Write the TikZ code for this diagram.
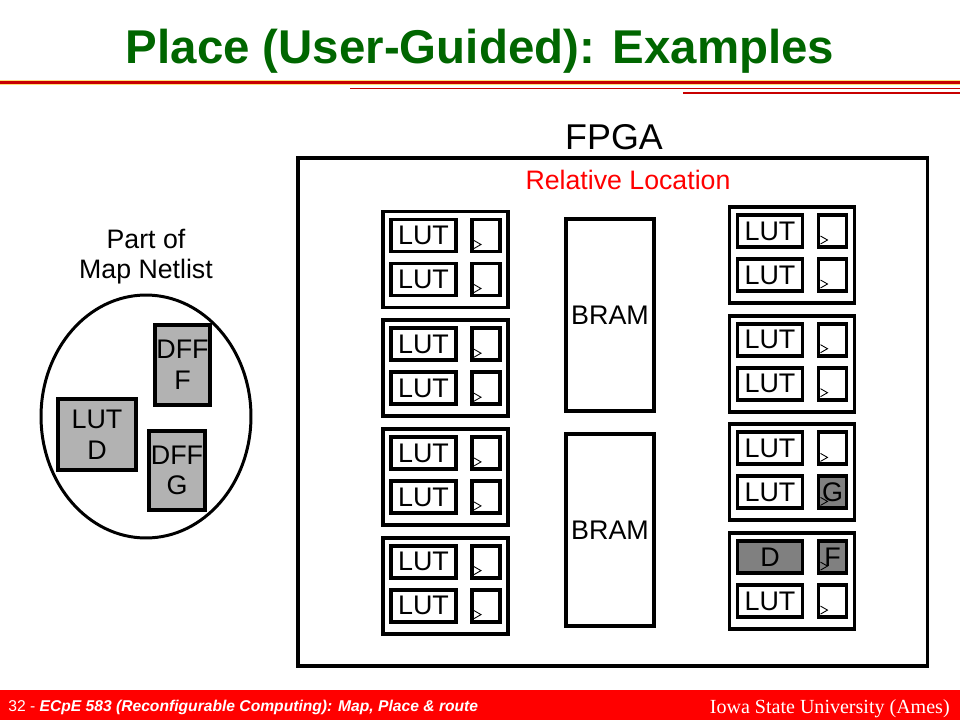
\documentclass[tikz,border=0pt]{standalone}
\usepackage{fontspec}
\setmainfont{Liberation Sans}
\newfontfamily\univfont{Liberation Serif}
\usetikzlibrary{positioning,calc,shapes.geometric}

\definecolor{titlegreen}{RGB}{0,102,0}
\definecolor{footred}{RGB}{255,0,0}
\definecolor{rulered}{RGB}{200,0,0}
\definecolor{ruleglow}{RGB}{255,225,120}
\definecolor{cellgray}{RGB}{178,178,178}
\definecolor{placed}{RGB}{128,128,128}

\begin{document}
\begin{tikzpicture}[
    x=0.02cm, y=-0.02cm,
    box/.style={draw, line width=2.2pt, inner sep=0pt, outer sep=0pt, font=\fontsize{15.3}{17.5}\selectfont},
    clb/.style={box, minimum width=2.5cm, minimum height=1.92cm},
    lut/.style={box, fill=white, minimum width=1.3cm, minimum height=0.64cm},
    ff/.style={box, fill=white, minimum width=0.56cm, minimum height=0.64cm},
    bram/.style={box, minimum width=1.76cm, minimum height=3.84cm},
    cell/.style={box, fill=cellgray, align=center},
    clk/.style={line width=0.5pt},
    label/.style={font=\fontsize{15.2}{17}\selectfont, align=center},
    foot/.style={text=white, inner sep=0pt}
]
\useasboundingbox (0,0) rectangle (960,720);

% title and rules
\node[anchor=base, text=titlegreen, font=\fontsize{27}{32}\selectfont\bfseries] (title) at (480,63) {Place (User-Guided): Examples};
\draw[ruleglow, line width=3pt] (0,82.5) -- (960,82.5);
\draw[rulered, line width=1.2pt] (0,82.5) -- (960,82.5);
\draw[rulered, line width=0.6pt] (350,88.5) -- (960,88.5);
\draw[rulered, line width=0.6pt] (683,93) -- (960,93);

% footer
\fill[footred] (0,690) rectangle (960,720);
\node[foot, anchor=base west, font=\fontsize{8.9}{10}\selectfont] (pgnum) at (8,711)
    {32 - \textbf{\itshape ECpE 583 (Reconfigurable Computing): Map, Place \& route}};
\node[foot, anchor=base east, font=\univfont\fontsize{11.4}{13}\selectfont] (univ) at (950,713) {Iowa State University (Ames)};

% map netlist
\node[label] (nllabel) at (146,257) {Part of\\Map Netlist};
\node[draw, ellipse, line width=1.7pt, minimum width=4.2cm, minimum height=4.86cm] (netlist) at (146,416.5) {};
\node[cell, minimum width=1.56cm, minimum height=1.42cm] (lutd) at (97,434.5) {LUT\\D};
\node[cell, minimum width=1.1cm, minimum height=1.6cm] (dfff) at (182.5,365) {DFF\\F};
\node[cell, minimum width=1.12cm, minimum height=1.58cm] (dffg) at (177,470.5) {DFF\\G};

% fpga
\node[label, font=\fontsize{20.4}{24}\selectfont] (fpgalabel) at (614,137) {FPGA};
\node[draw, line width=2.2pt, minimum width=12.59cm, minimum height=10.16cm] (fpga) at (612.75,412) {};
\node[label, text=footred] (relloc) at (628,180) {Relative Location};

\node[bram] (bram1) at (610,315) {BRAM};
\node[bram] (bram2) at (610,530) {BRAM};

% CLBs: name/x/y/fill a/text a/fill ff a/text ff a/fill b/text b/fill ff b/text ff b
\foreach \n/\x/\y/\ca/\ta/\cfa/\tfa/\cb/\tb/\cfb/\tfb in {
    cl1/445.5/259.5/white/LUT/white/{}/white/LUT/white/{},
    cl2/445.5/368.2/white/LUT/white/{}/white/LUT/white/{},
    cl3/445.5/476.9/white/LUT/white/{}/white/LUT/white/{},
    cl4/445.5/585.6/white/LUT/white/{}/white/LUT/white/{},
    cr1/792/255/white/LUT/white/{}/white/LUT/white/{},
    cr2/792/363.7/white/LUT/white/{}/white/LUT/white/{},
    cr3/792/472.4/white/LUT/white/{}/white/LUT/placed/G,
    cr4/792/581.1/placed/D/placed/F/white/LUT/white/{}}
{
    \node[clb] (\n) at (\x,\y) {};
    \node[lut, fill=\ca, below right=0.16cm and 0.16cm of \n.north west] (\n-a) {\ta};
    \node[lut, fill=\cb, below=0.24cm of \n-a] (\n-b) {\tb};
    \node[ff, fill=\cfa, right=0.32cm of \n-a] (\n-fa) {\tfa};
    \node[ff, fill=\cfb, right=0.32cm of \n-b] (\n-fb) {\tfb};
    \foreach \f in {\n-fa,\n-fb}
        \draw[clk] ($(\f.south west)+(2,-11)$) -- ++(7,4) -- ++(-7,4);
}
\end{tikzpicture}
\end{document}
